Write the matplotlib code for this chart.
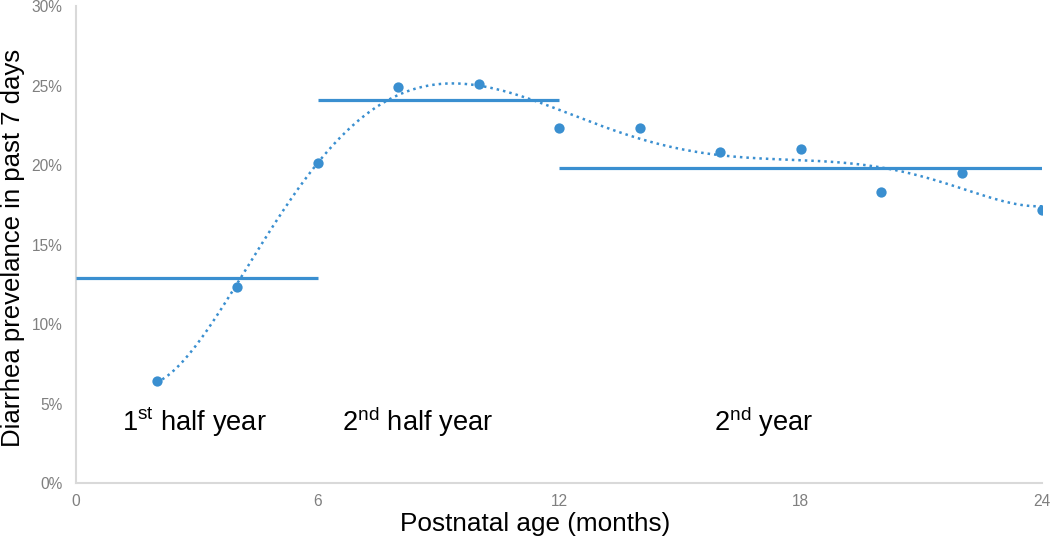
import matplotlib
matplotlib.use("Agg")

import numpy as np
import matplotlib.pyplot as plt
from matplotlib.ticker import FuncFormatter

plt.rcParams['font.family'] = ['Liberation Sans', 'DejaVu Sans']
plt.rcParams['mathtext.fontset'] = 'custom'
plt.rcParams['mathtext.rm'] = 'Liberation Sans'

# data
age_months = [2, 4, 6, 8, 10, 12, 14, 16, 18, 20, 22, 24]
prevalence = [6.4, 12.3, 20.1, 24.9, 25.1, 22.3, 22.3, 20.8, 21.0, 18.3, 19.5, 17.2]

period_start = [0, 6, 12]
period_end = [6, 12, 24]
period_mean = [12.9, 24.1, 19.8]
period_labels = [r'$\mathregular{1^{st}}$ half year',
                 r'$\mathregular{2^{nd}}$ half year',
                 r'$\mathregular{2^{nd}}$ year']
label_x = [1.15, 6.6, 15.85]

x_ticks = [0, 6, 12, 18, 24]
y_ticks = [0, 5, 10, 15, 20, 25, 30]

blue = '#3a8fd0'

fig = plt.figure(figsize=(10.5, 5.47), dpi=100)
ax = fig.add_axes([0.0724, 0.117, 0.92, 0.872])

# polynomial trendline (order 6), like the spreadsheet one
coef = np.polyfit(age_months, prevalence, 6)
xs = np.linspace(min(age_months), max(age_months), 300)
ax.plot(xs, np.polyval(coef, xs), color=blue, lw=1.8, ls=(0, (1, 1.6)), zorder=2)

for s, e, m in zip(period_start, period_end, period_mean):
    ax.plot([s, e], [m, m], color=blue, lw=2.3, solid_capstyle='butt', zorder=3)

ax.scatter(age_months, prevalence, s=55, color=blue, zorder=4, linewidths=0)

for lx, txt in zip(label_x, period_labels):
    ax.text(lx, 3.3, txt, fontsize=19.6, color='black', ha='left', va='baseline')

ax.set_xlim(0, 24)
ax.set_ylim(0, 30)
ax.set_xticks(x_ticks)
ax.set_yticks(y_ticks)
ax.yaxis.set_major_formatter(FuncFormatter(lambda v, p: f'{int(v)}%'))
ax.tick_params(length=0, labelsize=11.2, labelcolor='#7f7f7f')
ax.tick_params(axis='x', pad=8)
ax.tick_params(axis='y', pad=10)

for side in ['top', 'right']:
    ax.spines[side].set_visible(False)
for side in ['left', 'bottom']:
    ax.spines[side].set_color('#d9d9d9')
    ax.spines[side].set_linewidth(1.5)

fig.text(535 / 1050, 1 - 524 / 547, 'Postnatal age (months)', fontsize=18.8,
         ha='center', va='center')
fig.text(13 / 1050, 1 - 248 / 547, 'Diarrhea prevelance in past 7 days', fontsize=18.5,
         ha='center', va='center', rotation=90)

fig.savefig('out.png', dpi=100)
